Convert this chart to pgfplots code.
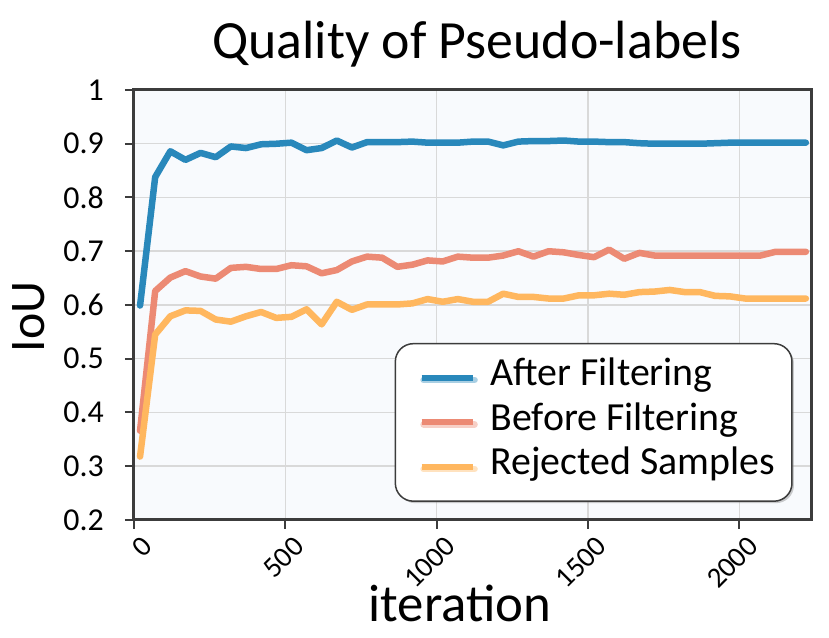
\documentclass[border=0pt]{standalone}
\usepackage{pgfplots}
\pgfplotsset{compat=1.18}
\usepackage{fontspec}
\setmainfont{Carlito}
\usetikzlibrary{shadows}
\definecolor{cblue}{RGB}{41,136,187}
\definecolor{cred}{RGB}{236,138,116}
\definecolor{cyel}{RGB}{255,183,95}
\definecolor{framecol}{RGB}{60,60,60}
\definecolor{gridcol}{RGB}{217,217,217}
\definecolor{bgcol}{RGB}{248,250,253}

\pgfplotstableread{
x after before rejected
20 0.599 0.366 0.318
70 0.838 0.626 0.545
120 0.886 0.651 0.579
170 0.870 0.663 0.590
220 0.883 0.653 0.589
270 0.875 0.649 0.573
320 0.895 0.669 0.569
370 0.892 0.671 0.579
420 0.899 0.667 0.587
470 0.900 0.667 0.576
520 0.902 0.674 0.578
570 0.888 0.672 0.592
620 0.892 0.659 0.564
670 0.906 0.665 0.606
720 0.893 0.681 0.591
770 0.903 0.690 0.601
820 0.903 0.688 0.601
870 0.903 0.671 0.601
920 0.904 0.675 0.603
970 0.902 0.683 0.611
1020 0.902 0.681 0.606
1070 0.902 0.690 0.611
1120 0.904 0.688 0.606
1170 0.904 0.688 0.606
1220 0.897 0.692 0.621
1270 0.904 0.700 0.615
1320 0.905 0.690 0.615
1370 0.905 0.700 0.612
1420 0.906 0.698 0.612
1470 0.904 0.693 0.618
1520 0.904 0.689 0.618
1570 0.903 0.703 0.621
1620 0.903 0.686 0.619
1670 0.901 0.697 0.624
1720 0.900 0.692 0.625
1770 0.900 0.692 0.628
1820 0.900 0.692 0.624
1870 0.900 0.692 0.624
1920 0.901 0.692 0.617
1970 0.902 0.692 0.616
2020 0.902 0.692 0.612
2070 0.902 0.692 0.612
2120 0.902 0.699 0.612
2170 0.902 0.699 0.612
2220 0.902 0.699 0.612
}\datatable

\begin{document}
\begin{tikzpicture}[x=1bp,y=1bp]
\path[use as bounding box] (-134,-118) rectangle (695,520);
\begin{axis}[
  at={(0,0)}, anchor=south west,
  scale only axis, width=677bp, height=430bp,
  xmin=0, xmax=2237, ymin=0.2, ymax=1,
  axis background/.style={fill=bgcol},
  axis line style={draw=framecol, line width=3bp},
  grid=major, major grid style={draw=gridcol, line width=1.5bp},
  tick style={draw=framecol, line width=2bp},
  tick align=outside, major tick length=9bp,
  xtick pos=bottom, ytick pos=left,
  xtick={0,500,1000,1500,2000},
  xticklabels={0,500,1000,1500,2000},
  ytick={0.2,0.3,0.4,0.5,0.6,0.7,0.8,0.9,1},
  yticklabels={0.2,0.3,0.4,0.5,0.6,0.7,0.8,0.9,1},
  yticklabel style={font=\fontsize{32}{32}\selectfont, inner xsep=0pt, xshift=-21bp},
  xticklabel style={font=\fontsize{29}{29}\selectfont, inner sep=0pt, xshift=7bp, yshift=-6bp, rotate=45, anchor=north east},
  legend style={at={(0.973,0.042)}, anchor=south east, draw=framecol, line width=1.5bp,
    fill=white, rounded corners=18bp,
    drop shadow={shadow xshift=2bp, shadow yshift=-2bp, opacity=0.4},
    font=\fontsize{40}{44}\selectfont,
    inner xsep=17bp, inner ysep=12bp, row sep=0pt,
    /tikz/every odd column/.append style={column sep=15bp},
    nodes={inner xsep=0bp, inner ysep=0bp, text height=30bp, text depth=14.5bp}},
  legend cell align=left,
  legend image code/.code={\path (0bp,0bp); \draw[line width=6bp, line cap=butt] (6bp,0bp) -- (57bp,0bp);},
  every axis plot/.append style={line width=6.5bp, line join=round, line cap=round},
]
\addplot[cblue] table[x=x, y=after] {\datatable};
\addlegendentry{After Filtering}
\addplot[cred] table[x=x, y=before] {\datatable};
\addlegendentry{Before Filtering}
\addplot[cyel] table[x=x, y=rejected] {\datatable};
\addlegendentry{Rejected Samples}
\end{axis}
\node[anchor=base, font=\fontsize{54}{54}\selectfont] at (343,461) {Quality of Pseudo-labels};
\node[anchor=base, font=\fontsize{53}{53}\selectfont] at (326,-102) {iteration};
\node[anchor=base, rotate=90, font=\fontsize{50}{50}\selectfont] at (-89,203) {IoU};
\end{tikzpicture}
\end{document}
